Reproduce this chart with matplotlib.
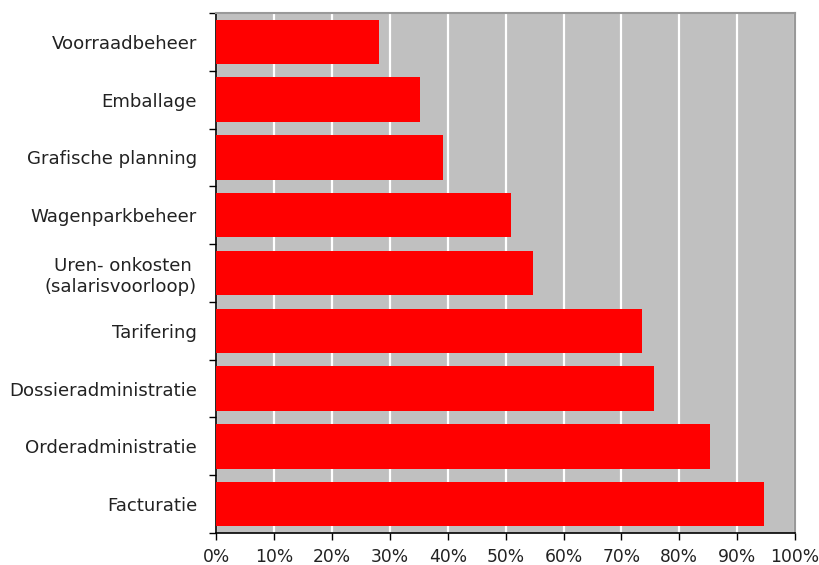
import matplotlib
matplotlib.use("Agg")
import matplotlib.pyplot as plt
import numpy as np
from matplotlib.ticker import FixedLocator, PercentFormatter

categories = [
    "Voorraadbeheer",
    "Emballage",
    "Grafische planning",
    "Wagenparkbeheer",
    "Uren- onkosten \n(salarisvoorloop)",
    "Tarifering",
    "Dossieradministratie",
    "Orderadministratie",
    "Facturatie",
]
values = [28.1, 35.2, 39.1, 50.9, 54.7, 73.5, 75.7, 85.3, 94.6]
x_ticks = [0, 10, 20, 30, 40, 50, 60, 70, 80, 90, 100]

plt.rcParams["font.family"] = ["DejaVu Sans"]

fig = plt.figure(figsize=(8.2, 5.65), dpi=100)
ax = fig.add_axes([216.5 / 820, 1 - 533 / 565, (795 - 216.5) / 820, (533 - 13) / 565])
ax.set_facecolor("#C0C0C0")

pos = np.arange(len(categories))
ax.barh(pos, values, height=0.77, color="#FF0000", zorder=3)

ax.set_xlim(0, 100)
ax.set_ylim(len(categories) - 0.5, -0.5)

ax.xaxis.set_major_locator(FixedLocator(x_ticks))
ax.xaxis.set_major_formatter(PercentFormatter(decimals=0))
ax.grid(axis="x", color="white", linewidth=1.6, zorder=1)
ax.set_axisbelow(True)

ax.set_yticks(pos)
ax.set_yticklabels(categories, fontsize=13.1, color="#222222", linespacing=1.2)
ax.set_yticks(np.arange(len(categories) + 1) - 0.5, minor=True)
ax.tick_params(axis="y", which="major", length=0, pad=14)
ax.tick_params(axis="y", which="minor", length=5, width=1, color="black", direction="out")
ax.tick_params(axis="x", which="major", length=5, width=1, labelsize=12.3,
               labelcolor="#222222", pad=6)

for side in ("left", "bottom"):
    ax.spines[side].set_color("black")
    ax.spines[side].set_linewidth(1.2)
for side in ("top", "right"):
    ax.spines[side].set_color("#999999")
    ax.spines[side].set_linewidth(1.5)

fig.savefig("out.png", dpi=100)
